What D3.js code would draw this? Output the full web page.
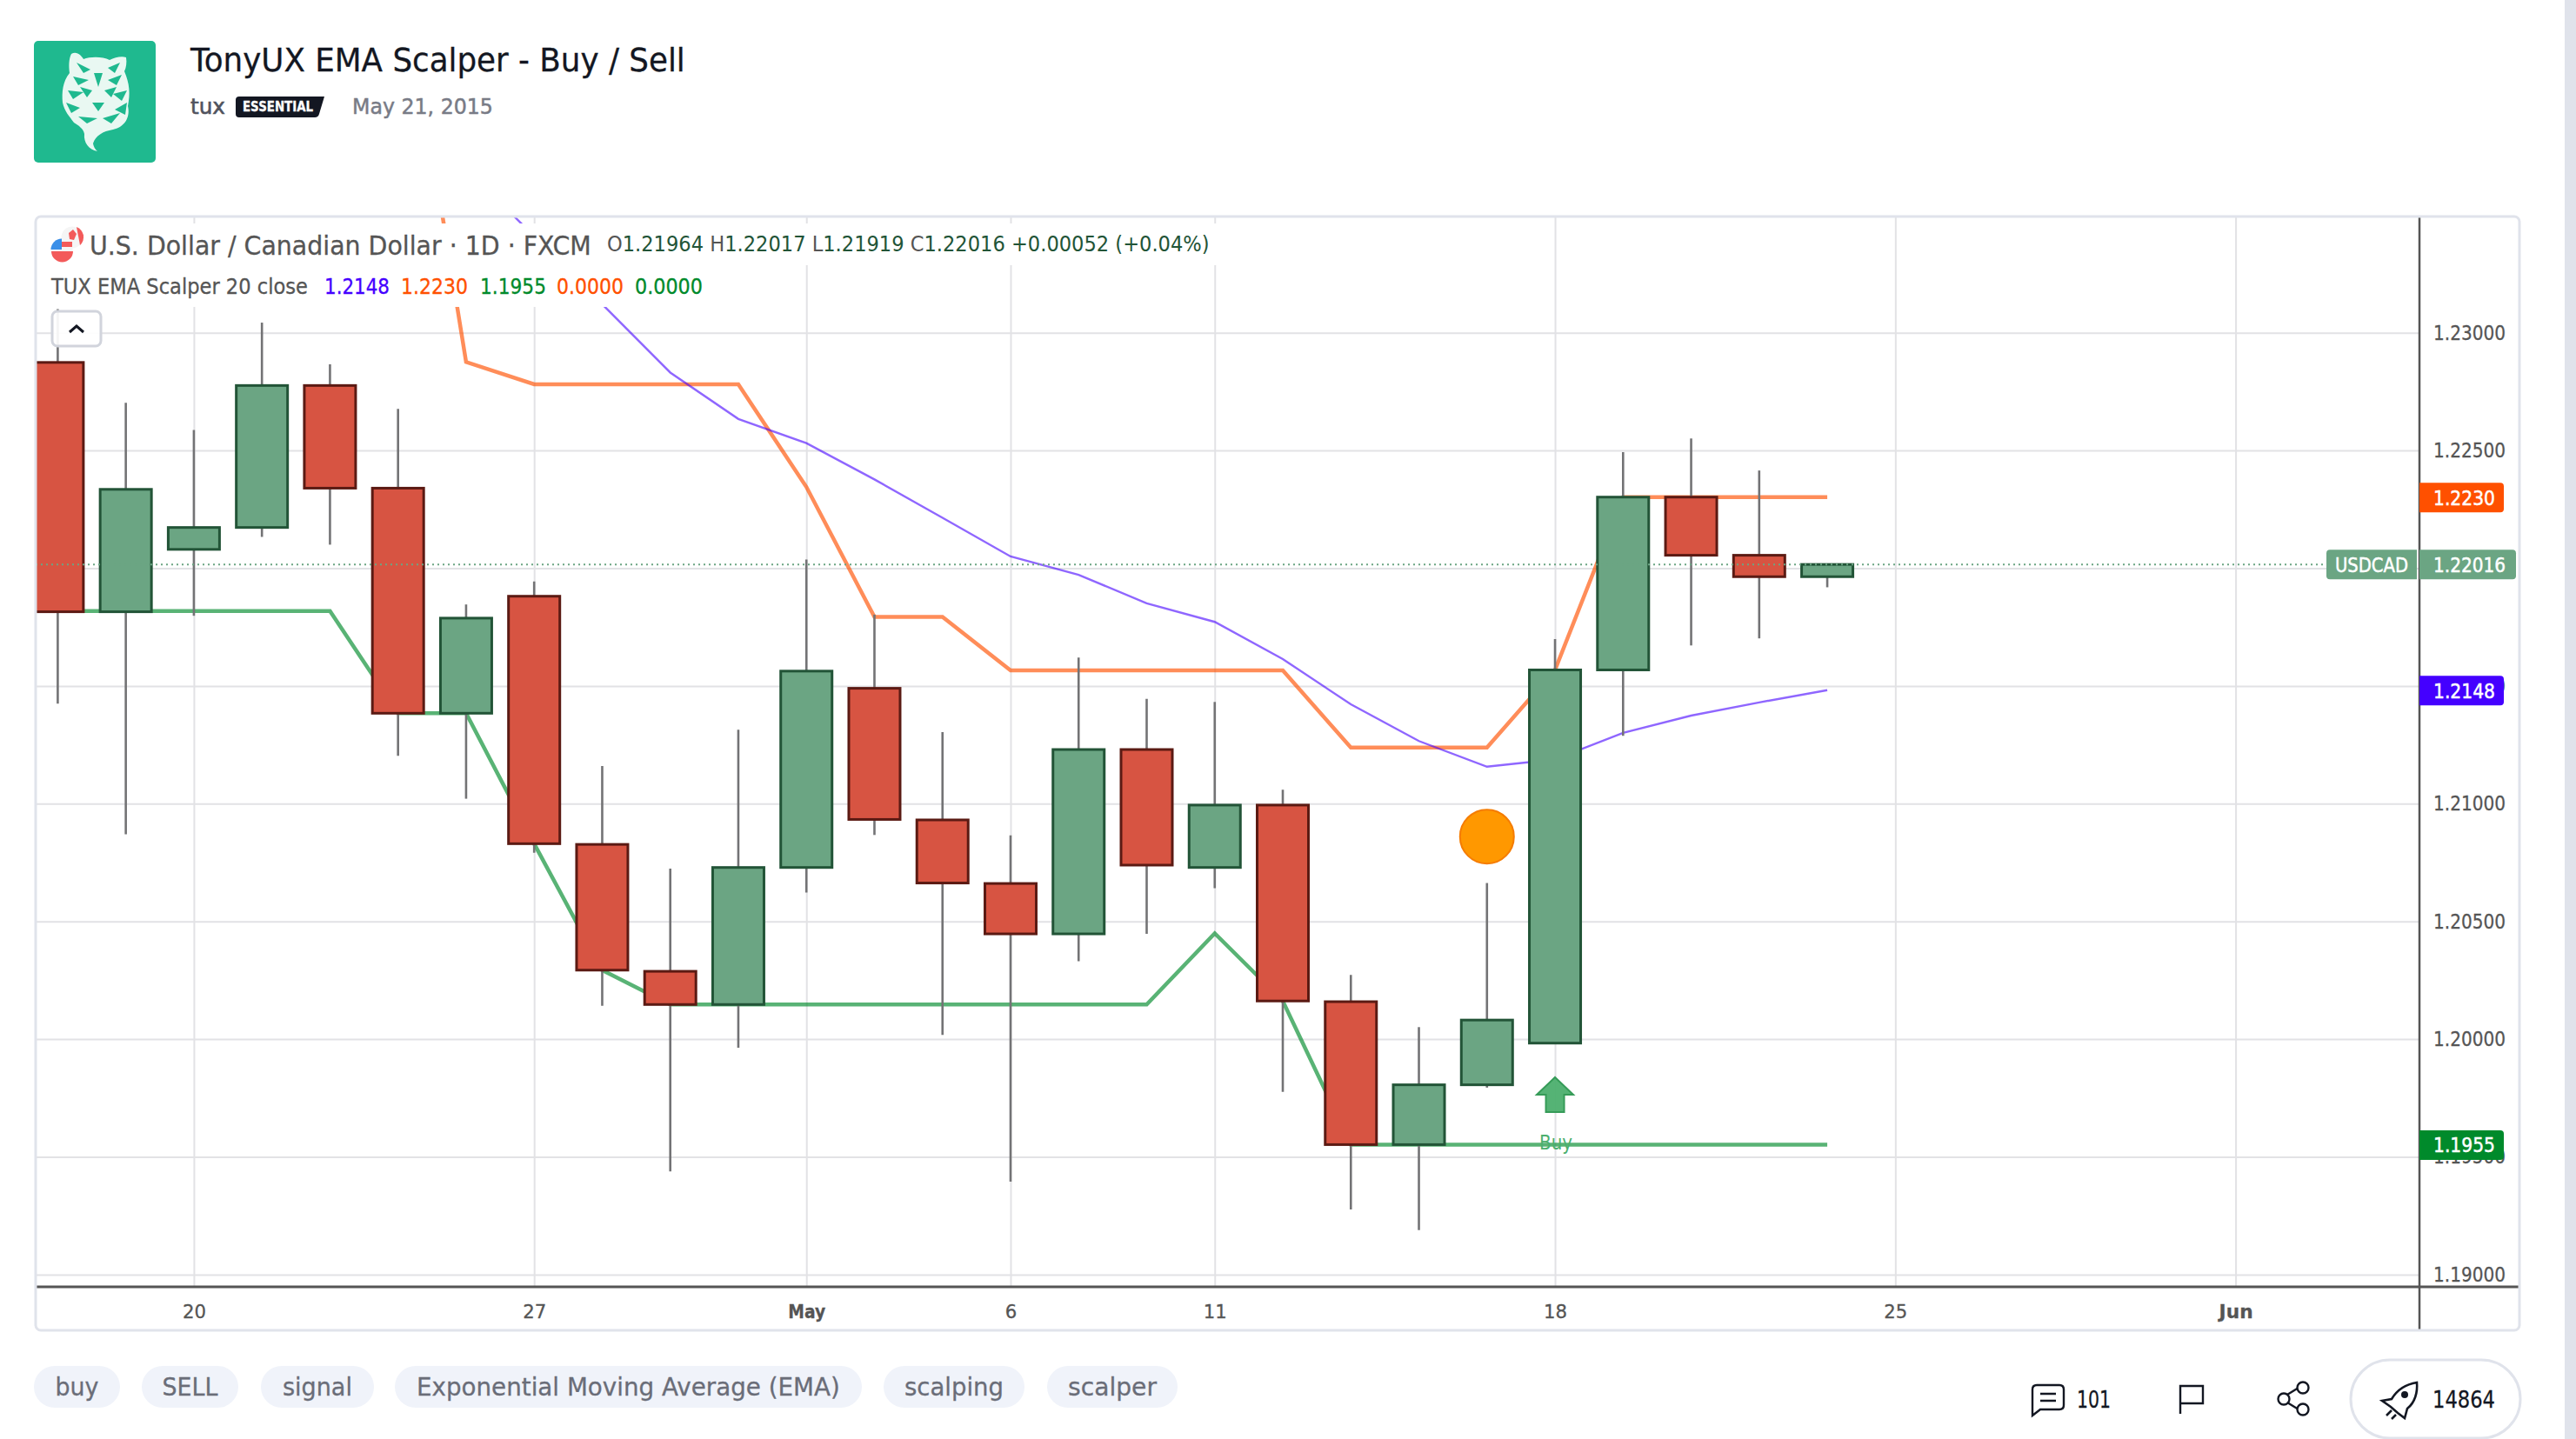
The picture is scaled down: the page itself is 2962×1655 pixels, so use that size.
<!DOCTYPE html>
<html>
<head>
<meta charset="utf-8">
<title>TonyUX EMA Scalper - Buy / Sell</title>
<script src="https://cdn.jsdelivr.net/npm/d3@7"></script>
<style>
    html, body { margin: 0; padding: 0; background: #fff; }
    svg { display: block; }
    text { font-family: "DejaVu Sans", sans-serif; }
</style>
</head>
<body>
<script>
//trading days on the time axis, the last six have no candle yet
var days = ["Apr 16", "Apr 17", "Apr 20", "Apr 21", "Apr 22", "Apr 23", "Apr 24", "Apr 27", "Apr 28", "Apr 29", "Apr 30",
    "May 1", "May 4", "May 5", "May 6", "May 7", "May 8", "May 11", "May 12", "May 13", "May 14", "May 15",
    "May 18", "May 19", "May 20", "May 21", "May 22", "May 25", "May 26", "May 27", "May 28", "May 29", "Jun 1"];

var opens = [1.22874, 1.21815, 1.22080, 1.22173, 1.22776, 1.22340, 1.21384, 1.21881, 1.20827, 1.20288, 1.20147,
    1.20729, 1.21490, 1.20931, 1.20661, 1.20447, 1.21230, 1.20729, 1.20994, 1.20159, 1.19552, 1.19806,
    1.19983, 1.21568, 1.22302, 1.22055, 1.21964];
var highs = [1.23100, 1.22703, 1.22587, 1.23043, 1.22866, 1.22677, 1.21846, 1.21944, 1.21160, 1.20724, 1.21314,
    1.22037, 1.21803, 1.21304, 1.20865, 1.21621, 1.21445, 1.21432, 1.21059, 1.20273, 1.20051, 1.20663,
    1.21699, 1.22493, 1.22551, 1.22415, 1.22017];
var lows = [1.21425, 1.20870, 1.21798, 1.22133, 1.22100, 1.21203, 1.21021, 1.20792, 1.20142, 1.19438, 1.19963,
    1.20623, 1.20867, 1.20018, 1.19395, 1.20331, 1.20447, 1.20641, 1.19776, 1.19277, 1.19189, 1.19794,
    1.19983, 1.21288, 1.21672, 1.21702, 1.21919];
var closes = [1.21815, 1.22335, 1.22173, 1.22776, 1.22340, 1.21384, 1.21788, 1.20830, 1.20293, 1.20147, 1.20729,
    1.21563, 1.20933, 1.20663, 1.20447, 1.21230, 1.20739, 1.20994, 1.20162, 1.19552, 1.19806, 1.20081,
    1.21568, 1.22302, 1.22055, 1.21964, 1.22016];

//indicator lines, they start on the day in the matching first index
var emaStart = 5;
var emaValues = [1.24000, 1.23700, 1.23409, 1.23121, 1.22831, 1.22634, 1.22531, 1.22377, 1.22214, 1.22050, 1.21972,
    1.21851, 1.21772, 1.21614, 1.21422, 1.21266, 1.21157, 1.21188, 1.21301, 1.21374, 1.21430, 1.21482];
var upperStart = 5;
var upperValues = [1.24664, 1.22876, 1.22781, 1.22781, 1.22781, 1.22781, 1.22345, 1.21793, 1.21793, 1.21566, 1.21566,
    1.21566, 1.21566, 1.21566, 1.21238, 1.21238, 1.21238, 1.21568, 1.22302, 1.22302, 1.22302, 1.22302];
var lowerStart = 0;
var lowerValues = [1.21818, 1.21818, 1.21818, 1.21818, 1.21818, 1.21384, 1.21384, 1.20830, 1.20293, 1.20147, 1.20147,
    1.20147, 1.20147, 1.20147, 1.20147, 1.20147, 1.20147, 1.20449, 1.20162, 1.19552, 1.19552, 1.19552,
    1.19552, 1.19552, 1.19552, 1.19552, 1.19552];

var priceTicks = [1.19, 1.195, 1.2, 1.205, 1.21, 1.215, 1.22, 1.225, 1.23];
var tickDays = ["Apr 20", "Apr 27", "May 1", "May 6", "May 11", "May 18", "May 25", "Jun 1"];
var tickLabels = ["20", "27", "May", "6", "11", "18", "25", "Jun"];
var boldTicks = ["May", "Jun"];

var lastPrice = 1.22016;
var signalDay = "May 15", signalPrice = 1.2086;
var buyDay = "May 18", buyPrice = 1.1955;

var tags = ["buy", "SELL", "signal", "Exponential Moving Average (EMA)", "scalping", "scalper"];
var tagStarts = [39, 163, 300, 454, 1016, 1204];
var tagEnds = [138, 274, 430, 991, 1178, 1354];
var tagTextWidths = [50, 64, 80, 487, 114, 102];

var width = 2962, height = 1655;
var paneLeft = 41, paneRight = 2782, paneTop = 250, paneBottom = 1480;

var red = "#d75442", redBorder = "#5b1a13", green = "#6ba583", greenBorder = "#225437";
var purple = "#4400ff", orange = "#ff5000", darkGreen = "#008a2b";

var svg = d3.select("body")
    .append("svg")
    .attr("width", width)
    .attr("height", height);

var x = d3.scalePoint().domain(days).range([66.4, 2570.6]);
var y = d3.scaleLinear().domain([1.19, 1.23]).range([1465.9, 382.7]);

//the page font runs narrower than ours, squeeze a text around its own x to the wanted width
function fit(sel, w) {
    var tx = +sel.attr("x") || 0;
    var k = w / sel.node().getComputedTextLength();
    sel.attr("transform", "translate(" + tx + ",0) scale(" + k + ",1) translate(" + (-tx) + ",0)");
    return sel;
}

function label(tx, ty, str, size, fill, w) {
    var t = svg.append("text")
        .attr("x", tx).attr("y", ty)
        .attr("font-size", size)
        .attr("fill", fill)
        .attr("stroke", fill)
        .attr("stroke-width", 0.3)
        .text(str);
    return fit(t, w);
}

//scrollbar strip on the right
svg.append("rect").attr("x", 2949).attr("y", 0).attr("width", 13).attr("height", height).attr("fill", "#e0e3eb");

drawHeader();

svg.append("clipPath").attr("id", "pane")
    .append("rect")
    .attr("x", paneLeft).attr("y", paneTop)
    .attr("width", paneRight - paneLeft).attr("height", paneBottom - paneTop);

var chart = svg.append("g").attr("clip-path", "url(#pane)");

//gridlines
chart.append("g")
    .attr("class", "grid")
    .attr("transform", "translate(" + paneLeft + ",0)")
    .call(d3.axisLeft(y).tickValues(priceTicks).tickSize(-(paneRight - paneLeft)).tickFormat(""));
chart.append("g")
    .attr("class", "grid")
    .attr("transform", "translate(0," + paneBottom + ")")
    .call(d3.axisBottom(x).tickValues(tickDays).tickSize(-(paneBottom - paneTop)).tickFormat(""));
chart.selectAll(".grid .domain").remove();
chart.selectAll(".grid line").attr("stroke", "#e2e2e5").attr("stroke-width", 2);

//indicator lines sit under the candles
function linePath(start) {
    return d3.line()
        .x(function (d, i) { return x(days[start + i]); })
        .y(function (d) { return y(d); });
}

chart.append("path").datum(lowerValues)
    .attr("d", linePath(lowerStart))
    .attr("fill", "none").attr("stroke", darkGreen).attr("stroke-opacity", 0.65).attr("stroke-width", 4.5);
chart.append("path").datum(upperValues)
    .attr("d", linePath(upperStart))
    .attr("fill", "none").attr("stroke", orange).attr("stroke-opacity", 0.65).attr("stroke-width", 4.5);
chart.append("path").datum(emaValues)
    .attr("d", linePath(emaStart))
    .attr("fill", "none").attr("stroke", purple).attr("stroke-opacity", 0.6).attr("stroke-width", 2.4);

//candles
var candles = opens.map(function (o, i) {
    return { day: days[i], open: o, high: highs[i], low: lows[i], close: closes[i] };
});

chart.selectAll(".wick")
    .data(candles)
    .enter()
    .append("line")
    .attr("class", "wick")
    .attr("x1", function (d) { return x(d.day); })
    .attr("x2", function (d) { return x(d.day); })
    .attr("y1", function (d) { return y(d.high); })
    .attr("y2", function (d) { return y(d.low); })
    .attr("stroke", "#737375")
    .attr("stroke-width", 2.6);

chart.selectAll(".body")
    .data(candles)
    .enter()
    .append("rect")
    .attr("class", "body")
    .attr("x", function (d) { return x(d.day) - 29.5; })
    .attr("width", 59)
    .attr("y", function (d) { return y(Math.max(d.open, d.close)); })
    .attr("height", function (d) { return Math.abs(y(d.open) - y(d.close)); })
    .attr("fill", function (d) { return d.close >= d.open ? green : red; })
    .attr("stroke", function (d) { return d.close >= d.open ? greenBorder : redBorder; })
    .attr("stroke-width", 3);

//orange dot over the 15th
chart.append("circle")
    .attr("cx", x(signalDay))
    .attr("cy", y(signalPrice))
    .attr("r", 31)
    .attr("fill", "#ff9800")
    .attr("stroke", "#f57c00")
    .attr("stroke-width", 2);

//buy arrow with its label
var buyX = x(buyDay), buyY = y(buyPrice);
chart.append("path")
    .attr("d", d3.line()([[buyX, buyY - 78], [buyX + 21, buyY - 58], [buyX + 10.5, buyY - 58], [buyX + 10.5, buyY - 38],
        [buyX - 10.5, buyY - 38], [buyX - 10.5, buyY - 58], [buyX - 21, buyY - 58]]) + "Z")
    .attr("fill", "#4caf6e")
    .attr("fill-opacity", 0.95)
    .attr("stroke", "#369b58")
    .attr("stroke-width", 2);
var buyText = chart.append("text")
    .attr("x", buyX - 18)
    .attr("y", buyY + 5)
    .attr("font-size", 23)
    .attr("fill", "#4caf6e")
    .text("Buy");
fit(buyText, 38);

//last price dotted line
chart.append("line")
    .attr("x1", paneLeft).attr("x2", 2675)
    .attr("y1", y(lastPrice)).attr("y2", y(lastPrice))
    .attr("stroke", green)
    .attr("stroke-width", 2)
    .attr("stroke-dasharray", "2 4");

drawLegend();

//price axis
var priceAxis = svg.append("g")
    .attr("transform", "translate(" + paneRight + ",0)")
    .call(d3.axisRight(y).tickValues(priceTicks).tickSize(0).tickPadding(16).tickFormat(d3.format(".5f")));
priceAxis.select(".domain").remove();
priceAxis.selectAll("text")
    .attr("font-size", 23)
    .attr("fill", "#555")
    .attr("stroke", "#555")
    .attr("stroke-width", 0.3)
    .style("font-family", "'DejaVu Sans'")
    .each(function () { fit(d3.select(this), 83); });

//time axis
var timeAxis = svg.append("g")
    .attr("transform", "translate(0," + paneBottom + ")")
    .call(d3.axisBottom(x).tickValues(tickDays).tickSize(0).tickPadding(20)
        .tickFormat(function (d) { return tickLabels[tickDays.indexOf(d)]; }));
timeAxis.select(".domain").remove();
timeAxis.selectAll("text")
    .attr("font-size", 22)
    .attr("fill", "#555")
    .attr("stroke", "#555")
    .attr("stroke-width", 0.3)
    .attr("font-weight", function () { return boldTicks.indexOf(this.textContent) >= 0 ? "bold" : "normal"; })
    .style("font-family", "'DejaVu Sans'")
    .each(function () {
        var s = this.textContent;
        fit(d3.select(this), s === "May" ? 43 : s === "Jun" ? 39 : s.length * 13.5);
    });

//axis lines
svg.append("line").attr("x1", paneRight).attr("x2", paneRight).attr("y1", 249).attr("y2", 1530)
    .attr("stroke", "#555").attr("stroke-width", 2.5);
svg.append("line").attr("x1", paneLeft).attr("x2", 2896).attr("y1", paneBottom).attr("y2", paneBottom)
    .attr("stroke", "#555").attr("stroke-width", 3);

//price tags on the axis
function priceTag(price, str, color, right, textWidth) {
    svg.append("path")
        .attr("d", "M" + paneRight + "," + (y(price) - 17) + "H" + (right - 4) + "q4,0 4,4V" + (y(price) + 13) + "q0,4 -4,4H" + paneRight + "Z")
        .attr("fill", color);
    label(2798, y(price) + 8.5, str, 23, "#fff", textWidth).attr("stroke-width", 0.5);
}
priceTag(1.2230, "1.2230", orange, 2879, 71);
priceTag(1.2148, "1.2148", purple, 2879, 71);
priceTag(1.1955, "1.1955", darkGreen, 2879, 71);
priceTag(lastPrice, "1.22016", green, 2893, 83);

svg.append("path")
    .attr("d", "M2779," + (y(lastPrice) - 17) + "H2679q-4,0 -4,4V" + (y(lastPrice) + 13) + "q0,4 4,4H2779Z")
    .attr("fill", green);
label(2685, y(lastPrice) + 8.5, "USDCAD", 23, "#fff", 84).attr("stroke-width", 0.5);

//chart frame
svg.append("rect")
    .attr("x", 41).attr("y", 249)
    .attr("width", 2856).attr("height", 1281)
    .attr("rx", 6)
    .attr("fill", "none")
    .attr("stroke", "#e0e3eb")
    .attr("stroke-width", 3);

drawTags();
drawActions();


function drawHeader() {
    svg.append("rect")
        .attr("x", 39).attr("y", 47).attr("width", 140).attr("height", 140).attr("rx", 5)
        .attr("fill", "#1fb98f");

    //rough tiger head and tail
    svg.append("path")
        .attr("d", "M82,62 C88,58 94,64 96,68 C104,65 118,65 126,69 C132,66 140,64 145,66 C146,72 145,78 143,82 C149,96 150,108 147,122 C150,134 144,146 130,149 C118,151 110,156 107,165 C108,170 110,172 112,174 C102,172 96,164 97,154 C96,148 90,144 85,141 C80,134 74,128 72,118 C71,106 72,94 80,84 C79,76 79,68 82,62Z")
        .attr("fill", "#e9f8f2");
    svg.append("path")
        .attr("d", "M88,72 L104,80 L96,84Z M124,78 L138,72 L132,84Z M84,88 L102,92 L90,98Z M124,92 L140,86 L134,98Z M78,104 L96,106 L84,114Z M92,100 L106,104 L100,112Z M120,104 L134,100 L128,112Z M130,108 L146,104 L140,116Z M108,84 L118,84 L113,100Z M106,118 L120,118 L113,128Z M76,118 L92,124 L82,130Z M146,118 L132,126 L144,132Z M90,134 L112,136 L100,142Z M118,136 L138,130 L128,142Z")
        .attr("fill", "#1fb98f");

    label(219, 82, "TonyUX EMA Scalper - Buy / Sell", 38, "#131722", 569);
    label(219, 131, "tux", 25, "#50535e", 40).attr("stroke-width", 0.6);
    svg.append("path")
        .attr("d", "M275,111 H373 L367,131 q-1,4 -5,4 H275 q-4,0 -4,-4 V115 q0,-4 4,-4Z")
        .attr("fill", "#131722");
    var badge = label(279, 128, "ESSENTIAL", 15, "#fff", 81).attr("font-weight", "bold");
    fit(badge, 81);
    label(405, 131, "May 21, 2015", 25, "#787b86", 162).attr("stroke-width", 0.5);
}

function drawLegend() {
    //legend rows mask the chart behind them
    chart.append("rect").attr("x", paneLeft).attr("y", 257).attr("width", 1360).attr("height", 48).attr("fill", "#fff");
    chart.append("rect").attr("x", paneLeft).attr("y", 305).attr("width", 777).attr("height", 48).attr("fill", "#fff");

    //small flags
    svg.append("circle").attr("cx", 83).attr("cy", 273).attr("r", 12.5).attr("fill", "#f5f5f5");
    svg.append("path").attr("d", "M88,261 A12.5,12.5 0 0 1 92,282 Z").attr("fill", "#f35a5a");
    svg.append("path").attr("d", "M79,268 L84,264 L88,269 L85,276 L80,275Z").attr("fill", "#f35a5a");
    svg.append("circle").attr("cx", 71).attr("cy", 287).attr("r", 12.5).attr("fill", "#f5f5f5");
    svg.append("path").attr("d", "M59,289 H84 A12.5,12.5 0 0 1 59,289Z M71,284 H83 V278 H71Z").attr("fill", "#f35a5a");
    svg.append("path").attr("d", "M71,274.5 A12.5,12.5 0 0 0 58.5,287 H71Z").attr("fill", "#3a8fe8");

    label(103, 293, "U.S. Dollar / Canadian Dollar \u00b7 1D \u00b7 FXCM", 30, "#555", 577);

    var ohlc = svg.append("text").attr("x", 698).attr("y", 289).attr("font-size", 24).attr("fill", "#225437");
    [["O", "1.21964"], ["H", "1.22017"], ["L", "1.21919"], ["C", "1.22016"]].forEach(function (p) {
        ohlc.append("tspan").attr("fill", "#555").text(p[0]);
        ohlc.append("tspan").text(p[1] + " ");
    });
    ohlc.append("tspan").text("+0.00052 (+0.04%)");
    fit(ohlc, 693);

    label(59, 338, "TUX EMA Scalper 20 close", 24, "#555", 295);
    label(373, 338, "1.2148", 24, purple, 75);
    label(461, 338, "1.2230", 24, orange, 77);
    label(552, 338, "1.1955", 24, darkGreen, 76);
    label(640, 338, "0.0000", 24, orange, 77);
    label(730, 338, "0.0000", 24, darkGreen, 78);

    //collapse button
    svg.append("rect")
        .attr("x", 60).attr("y", 358).attr("width", 56).attr("height", 40).attr("rx", 6)
        .attr("fill", "#fff").attr("fill-opacity", 0.92)
        .attr("stroke", "#d1d4dc").attr("stroke-width", 3);
    svg.append("path").attr("d", "M80,382 L88,375 L96,382")
        .attr("fill", "none").attr("stroke", "#131722").attr("stroke-width", 3);
}

function drawTags() {
    tags.forEach(function (t, i) {
        svg.append("rect")
            .attr("x", tagStarts[i]).attr("y", 1571)
            .attr("width", tagEnds[i] - tagStarts[i]).attr("height", 48)
            .attr("rx", 24)
            .attr("fill", "#f0f3fa");
        label((tagStarts[i] + tagEnds[i] - tagTextWidths[i]) / 2, 1605, t, 29, "#6a6d78", tagTextWidths[i]);
    });
}

function drawActions() {
    var ink = "#131722";

    //comment
    svg.append("path")
        .attr("d", "M2337,1598 q0,-5 5,-5 H2368 q5,0 5,5 V1616 q0,5 -5,5 H2346 L2337,1628Z M2346,1603 H2364 M2346,1611 H2364")
        .attr("fill", "none").attr("stroke", ink).attr("stroke-width", 2.4);
    label(2388, 1619, "101", 27, ink, 39);

    //flag
    svg.append("path")
        .attr("d", "M2507,1626 V1594 H2533 V1614 H2507")
        .attr("fill", "none").attr("stroke", ink).attr("stroke-width", 2.4);

    //share
    svg.append("path")
        .attr("d", "M2630,1604 L2643,1596 M2630,1613 L2643,1621")
        .attr("fill", "none").attr("stroke", ink).attr("stroke-width", 2.4);
    [[2626, 1609], [2648, 1596], [2648, 1621]].forEach(function (c) {
        svg.append("circle").attr("cx", c[0]).attr("cy", c[1]).attr("r", 6.5)
            .attr("fill", "#fff").attr("stroke", ink).attr("stroke-width", 2.4);
    });

    //boost button with rocket
    svg.append("rect")
        .attr("x", 2703).attr("y", 1564).attr("width", 195).attr("height", 90).attr("rx", 45)
        .attr("fill", "#fff").attr("stroke", "#e0e3eb").attr("stroke-width", 3);
    svg.append("path")
        .attr("d", "M2779,1590 C2766,1592 2756,1599 2750,1609 L2739,1611 L2749,1618 L2757,1625 L2765,1631 L2768,1620 C2777,1613 2780,1601 2779,1590Z M2750,1622 L2744,1628 M2755,1627 L2750,1632")
        .attr("fill", "#fff").attr("stroke", ink).attr("stroke-width", 2.6);
    svg.append("circle").attr("cx", 2765).attr("cy", 1604).attr("r", 4).attr("fill", ink);
    label(2797, 1619, "14864", 27, ink, 72);
}
</script>
</body>
</html>
